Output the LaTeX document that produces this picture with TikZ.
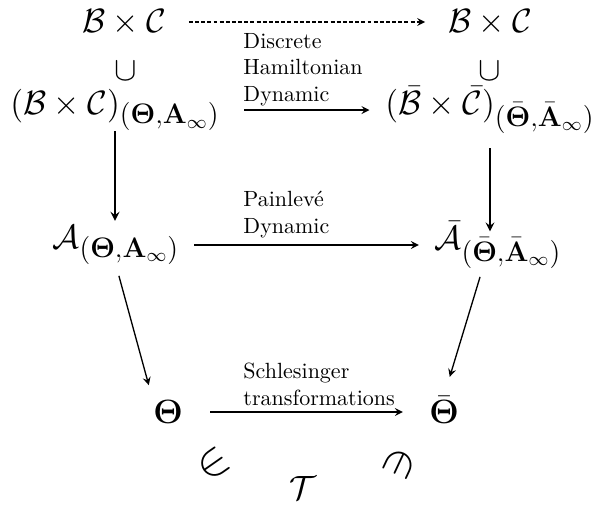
\RequirePackage{fix-cm}
\documentclass[tikz,border=0pt]{standalone}
\usepackage{amsmath,amssymb}
\usepackage{tikz}
\usetikzlibrary{arrows,calc}
\DeclareMathSizes{15.3}{15.3}{12.8}{8.5}
\tikzset{
  obj/.style={font=\fontsize{15.3}{18}\selectfont,inner sep=0pt},
  memb/.style={font=\fontsize{21}{25}\selectfont,inner sep=0pt},
  lbl/.style={font=\normalsize,align=left,inner sep=0pt,anchor=south west},
  mapto/.style={->,>=stealth,semithick},
  dmapto/.style={->,>=stealth,semithick,dash pattern=on 1.8pt off 1pt},
  incl/.style={->,>=stealth,thick},
}
\begin{document}
\begin{tikzpicture}[x=0.4545pt,y=-0.4545pt]
  \useasboundingbox (0,0) rectangle (594,510);
  % objects
  \node[obj] (bc) at (124,22) {$\mathcal{B}\times\mathcal{C}$};
  \node[obj] (bcb) at (490,22) {$\mathcal{B}\times\mathcal{C}$};
  \node[obj] (cupl) at (126,71) {$\cup$};
  \node[obj] (cupr) at (490,71) {$\cup$};
  \node[obj] (bcl) at (115,110) {$(\mathcal{B}\times\mathcal{C})_{(\mathbf{\Theta},\mathbf{A}_\infty)}$};
  \node[obj] (bcr) at (490,110) {$(\bar{\mathcal{B}}\times\bar{\mathcal{C}})_{(\bar{\mathbf{\Theta}},\bar{\mathbf{A}}_\infty)}$};
  \node[obj] (al) at (116,245) {$\mathcal{A}_{(\mathbf{\Theta},\mathbf{A}_\infty)}$};
  \node[obj] (ar) at (498,245) {$\bar{\mathcal{A}}_{(\bar{\mathbf{\Theta}},\bar{\mathbf{A}}_\infty)}$};
  \node[obj] (th) at (168,412) {$\mathbf{\Theta}$};
  \node[obj] (thb) at (444,410) {$\bar{\mathbf{\Theta}}$};
  \node[obj] (tt) at (303,488) {$\mathcal{T}$};
  \node[memb,rotate=35] (inl) at (213,464) {$\in$};
  \node[memb,rotate=65] (inr) at (400,464) {$\ni$};
  % labels
  \node[lbl] (lhd) at (243,106) {Discrete\\Hamiltonian\\Dynamic};
  \node[lbl] (lpd) at (243,238) {Painlevé\\Dynamic};
  \node[lbl] (lst) at (243,406) {Schlesinger\\transformations};
  % arrows
  \draw[dmapto,shorten <=10.2pt,shorten >=10.2pt] (bc.east) -- (bc.east -| bcb.west);
  \draw[mapto,shorten <=11pt,shorten >=7pt] (bcl.east) -- (bcl.east -| bcr.west);
  \draw[mapto,shorten <=6.6pt,shorten >=7pt] (al.east) -- (al.east -| ar.west);
  \draw[mapto,shorten <=12.3pt,shorten >=11.8pt] (th.east) -- (th.east -| thb.west);
  \draw[incl,shorten <=0pt,shorten >=1.8pt] (bcl.south) -- (bcl.south |- al.north);
  \draw[incl,shorten <=6.8pt,shorten >=-4.5pt] (bcr.south) -- (bcr.south |- ar.north);
  \draw[mapto,shorten <=5pt,shorten >=7pt] (al.south) -- (th.north west);
  \draw[mapto,shorten <=4pt,shorten >=9pt] ([xshift=-7pt]ar.south) -- (thb.north);
\end{tikzpicture}
\end{document}
